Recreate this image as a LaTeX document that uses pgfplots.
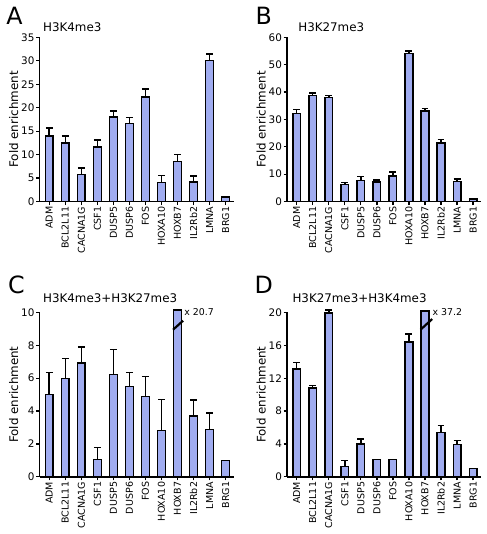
\documentclass[border={3pt 4pt 5pt 4pt}]{standalone}
\usepackage{pgfplots}
\pgfplotsset{compat=1.18}
\usepackage{pgfplotstable}
\usepgfplotslibrary{groupplots}
\usepackage{fontspec}
\setmainfont{DejaVu Sans}
\definecolor{barblue}{RGB}{160,172,240}

\pgfplotstableread{
x y e
0 14.0 1.7
1 12.5 1.5
2 5.8 1.4
3 11.6 1.5
4 18.0 1.3
5 16.7 1.2
6 22.3 1.7
7 4.1 1.5
8 8.5 1.5
9 4.2 1.3
10 30.0 1.4
11 1.0 0
}\dataA
\pgfplotstableread{
x y e
0 32.2 1.4
1 38.8 0.8
2 37.9 0.9
3 6.2 0.8
4 7.7 1.4
5 7.2 0.7
6 9.4 1.4
7 54.1 0.9
8 33.1 0.9
9 21.4 1.2
10 7.4 0.8
11 1.0 0
}\dataB
\pgfplotstableread{
x y e
0 4.99 1.36
1 6.0 1.2
2 6.92 0.98
3 1.06 0.73
4 6.23 1.51
5 5.5 0.85
6 4.89 1.2
7 2.81 1.9
8 10.15 0
9 3.7 0.98
10 2.87 1.02
11 1.0 0
}\dataC
\pgfplotstableread{
x y e
0 13.1 0.8
1 10.8 0.3
2 19.95 0.35
3 1.23 0.74
4 4.0 0.6
5 2.09 0
6 2.09 0
7 16.4 1.0
8 20.2 0
9 5.37 0.9
10 3.93 0.5
11 1.0 0
}\dataD

\pgfplotsset{
  panel/.style={
    width=196pt, height=166pt, scale only axis,
    axis x line*=bottom, axis y line*=left,
    axis line style={-, line width=1.6pt},
    xmin=-0.6, xmax=11.5, ymin=0,
    xtick={0,...,11},
    xticklabels={ADM,BCL2L11,CACNA1G,CSF1,DUSP5,DUSP6,FOS,HOXA10,HOXB7,IL2Rb2,LMNA,BRG1},
    xticklabel style={rotate=90, anchor=east, font=\fontsize{9.6}{11}\selectfont, inner sep=1.5pt},
    yticklabel style={font=\fontsize{10.5}{12}\selectfont, inner sep=1.5pt},
    tick align=outside, major tick length=3.5pt,
    tick style={black, line width=1.3pt},
    ylabel={Fold enrichment}, ylabel style={font=\fontsize{12}{14}\selectfont},
    ylabel shift=-2pt,
    clip=false,
    /pgf/number format/assume math mode=true,
    ybar, bar width=7.8pt,
  },
  bars/.style={
    draw=black, fill=barblue, line width=1.4pt,
    error bars/.cd, y dir=plus, y explicit,
    error bar style={line width=1.5pt, black},
    error mark options={rotate=90, mark size=3.5pt, line width=1.5pt, black},
  },
}
\tikzset{
  letter/.style={font=\fontsize{24}{26}\selectfont},
  ttl/.style={anchor=west, font=\fontsize{12}{14}\selectfont},
}

\begin{document}
\begin{tikzpicture}
\begin{groupplot}[group style={group size=2 by 2, horizontal sep=54pt, vertical sep=112pt}]
\nextgroupplot[panel, ymax=35, ytick={0,5,...,35}]
\addplot[bars] table[x=x, y=y, y error=e] {\dataA};
\node[letter] at (rel axis cs:-0.13,1.13) {A};
\node[ttl] at (rel axis cs:0.0,1.06) {H3K4me3};

\nextgroupplot[panel, ymax=60, ytick={0,10,...,60}]
\addplot[bars] table[x=x, y=y, y error=e] {\dataB};
\node[letter] at (rel axis cs:-0.12,1.13) {B};
\node[ttl] at (rel axis cs:0.04,1.06) {H3K27me3};

\nextgroupplot[panel, ymax=10, ytick={0,2,...,10}]
\addplot[bars] table[x=x, y=y, y error=e] {\dataC};
\draw[line width=2.2pt] (axis cs:7.72,8.95) -- (axis cs:8.35,9.5);
\node[anchor=west, font=\fontsize{9.5}{10}\selectfont, inner sep=1pt] at (axis cs:8.35,10.0) {x 20.7};
\node[letter] at (rel axis cs:-0.12,1.17) {C};
\node[ttl] at (rel axis cs:0.0,1.085) {H3K4me3+H3K27me3};

\nextgroupplot[panel, ymax=20, ytick={0,4,...,20}]
\addplot[bars] table[x=x, y=y, y error=e] {\dataD};
\draw[line width=2.2pt] (axis cs:7.72,17.9) -- (axis cs:8.45,19.2);
\node[anchor=west, font=\fontsize{9.5}{10}\selectfont, inner sep=1pt] at (axis cs:8.4,20.0) {x 37.2};
\node[letter] at (rel axis cs:-0.12,1.17) {D};
\node[ttl] at (rel axis cs:0.01,1.085) {H3K27me3+H3K4me3};
\end{groupplot}
\end{tikzpicture}
\end{document}
